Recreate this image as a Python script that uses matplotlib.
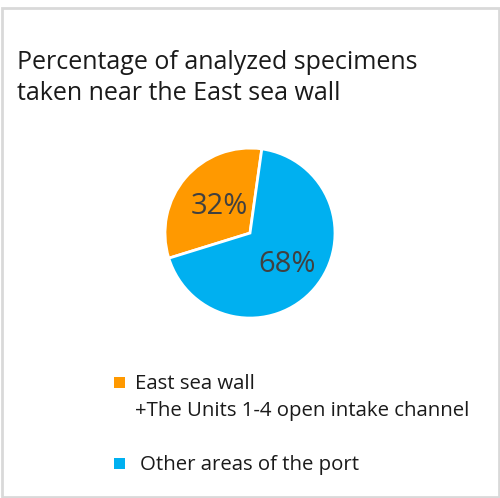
import numpy as np
import matplotlib.pyplot as plt
from matplotlib.patches import Rectangle

plt.rcParams['font.family'] = ['Open Sans', 'DejaVu Sans']

labels = ['East sea wall\n+The Units 1-4 open intake channel', 'Other areas of the port']
shares = [32, 68]
colors = ['#FF9900', '#00B0F0']
pct_dist = [0.48, 0.57]

fig = plt.figure(figsize=(5.0, 4.98), dpi=100)

# light grey frame around the whole chart
fig.patches.append(Rectangle((0.003, 0.003), 0.994, 0.98, transform=fig.transFigure,
                             fill=False, edgecolor='#d9d9d9', linewidth=2))

fig.text(0.034, 0.9, 'Percentage of analyzed specimens\ntaken near the East sea wall',
         fontsize=18, color='#1a1a1a', va='top', ha='left', linespacing=1.33)

ax = fig.add_axes([0.5 - 0.17, 0.532 - 0.1707, 0.34, 0.3414])
wedges, texts = ax.pie(shares, colors=colors, startangle=82, counterclock=True,
                       wedgeprops=dict(edgecolor='white', linewidth=2))
for w, d, s in zip(wedges, pct_dist, shares):
    mid = np.deg2rad((w.theta1 + w.theta2) / 2)
    ax.text(d * np.cos(mid), d * np.sin(mid), f'{s}%', ha='center', va='center',
            fontsize=21, color='#404040')
ax.set_xlim(-1, 1)
ax.set_ylim(-1, 1)

# legend drawn by hand so the marker sits on the first line
leg_y = [0.231, 0.07]
leg_x = [0.27, 0.28]
for lab, c, y, x in zip(labels, colors, leg_y, leg_x):
    fig.patches.append(Rectangle((0.228, y - 0.011), 0.022, 0.022, transform=fig.transFigure,
                                 facecolor=c, edgecolor='none'))
    fig.text(x, y + 0.017, lab, fontsize=14.7, color='#1a1a1a', va='top', ha='left',
             linespacing=1.42)

fig.savefig('out.png', dpi=100)
